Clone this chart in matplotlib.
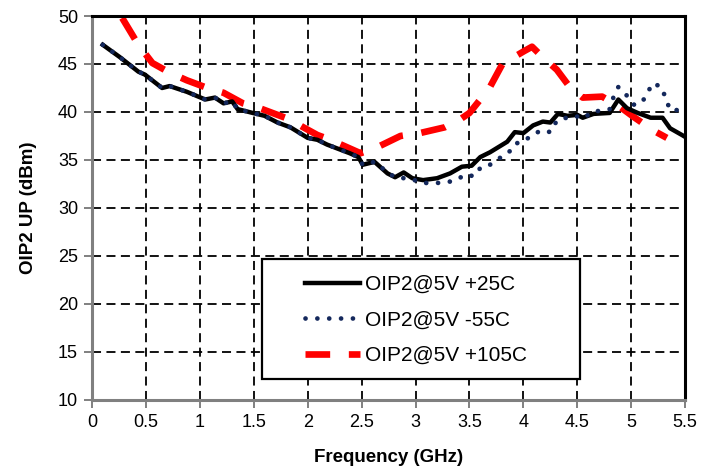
import numpy as np
import matplotlib; matplotlib.use("Agg")
import matplotlib.pyplot as plt
from matplotlib.patches import Rectangle

plt.rcParams.update({"font.family": ["Liberation Sans", "DejaVu Sans"]})

# OIP2 (upper tone) vs frequency at three temperatures
f_25 = [0.10, 0.26, 0.43, 0.49, 0.65, 0.72, 0.88, 1.05, 1.14, 1.22, 1.30, 1.35, 1.49, 1.60,
        1.72, 1.84, 2.00, 2.09, 2.18, 2.39, 2.47, 2.51, 2.62, 2.74, 2.81, 2.89, 2.97, 3.07,
        3.20, 3.32, 3.43, 3.52, 3.60, 3.69, 3.85, 3.92, 4.00, 4.09, 4.18, 4.25, 4.32, 4.41,
        4.50, 4.55, 4.65, 4.80, 4.88, 4.96, 5.06, 5.18, 5.29, 5.36, 5.47, 5.50]
oip_25 = [47.0, 45.7, 44.2, 43.9, 42.5, 42.7, 42.1, 41.3, 41.5, 40.9, 41.1, 40.3, 39.9, 39.6,
          38.9, 38.4, 37.3, 37.1, 36.6, 35.7, 35.3, 34.5, 34.8, 33.6, 33.2, 33.7, 33.1, 32.9,
          33.1, 33.6, 34.3, 34.4, 35.3, 35.8, 36.9, 37.9, 37.8, 38.6, 39.0, 38.9, 39.8, 39.6,
          39.7, 39.4, 39.8, 39.9, 41.3, 40.4, 39.9, 39.4, 39.4, 38.3, 37.6, 37.4]

f_m55 = [0.10, 0.26, 0.43, 0.49, 0.65, 0.72, 0.88, 1.05, 1.14, 1.22, 1.30, 1.35, 1.49, 1.60,
         1.72, 1.84, 2.00, 2.09, 2.18, 2.39, 2.47, 2.51, 2.62, 2.74, 2.81, 2.97, 3.05, 3.13,
         3.20, 3.30, 3.38, 3.46, 3.54, 3.61, 3.69, 3.78, 3.86, 3.92, 4.00, 4.08, 4.17, 4.25,
         4.31, 4.40, 4.48, 4.55, 4.65, 4.72, 4.80, 4.83, 4.88, 4.96, 5.03, 5.11, 5.16, 5.20,
         5.28, 5.32, 5.36, 5.44, 5.50]
oip_m55 = [47.0, 45.7, 44.2, 43.9, 42.5, 42.7, 42.1, 41.3, 41.5, 40.9, 41.1, 40.3, 39.9, 39.6,
           38.9, 38.4, 37.3, 37.1, 36.6, 35.7, 35.3, 34.5, 34.8, 33.7, 33.2, 33.0, 32.6, 32.6,
           32.6, 32.7, 32.9, 33.5, 33.3, 34.3, 34.5, 35.2, 35.7, 36.7, 36.9, 37.6, 38.1, 37.9,
           39.1, 39.4, 39.6, 39.3, 40.1, 40.1, 40.3, 41.4, 42.6, 41.7, 40.7, 41.2, 42.2, 43.0,
           42.6, 41.4, 40.2, 40.2, 40.0]

f_105 = [0.28, 0.43, 0.56, 0.72, 0.88, 1.07, 1.22, 1.40, 1.53, 1.72, 1.84, 1.96, 2.09, 2.21,
         2.33, 2.49, 2.64, 2.86, 3.04, 3.27, 3.41, 3.50, 3.60, 3.69, 3.81, 3.91, 4.00, 4.08,
         4.18, 4.31, 4.43, 4.55, 4.73, 4.90, 5.02, 5.20, 5.33]
oip_105 = [49.8, 47.0, 45.1, 44.1, 43.3, 42.5, 42.0, 40.9, 40.5, 39.7, 39.2, 38.4, 37.6, 37.1,
           36.5, 35.7, 36.3, 37.5, 37.8, 38.4, 39.2, 39.9, 41.3, 42.6, 45.1, 45.7, 46.3, 46.8,
           45.7, 44.4, 42.6, 41.5, 41.6, 40.5, 39.5, 38.1, 37.3]

labels = ["OIP2@5V +25C", "OIP2@5V -55C", "OIP2@5V +105C"]
xticks = np.arange(0, 5.51, 0.5)
yticks = np.arange(10, 51, 5)

fig = plt.figure(figsize=(7.13, 4.71), dpi=100)
ax = fig.add_axes([0.129, 0.151, 0.832, 0.815])

ax.plot(f_25, oip_25, color="black", lw=3.2, label=labels[0], zorder=3)
ln2, = ax.plot(f_m55, oip_m55, color="#14285C", lw=3.4, label=labels[1], zorder=4,
               dash_capstyle="round", dash_joinstyle="round")
ln2.set_dashes([0.01, 2.5])
ln3, = ax.plot(f_105, oip_105, color="#FF0000", lw=4.8, label=labels[2], zorder=2,
               dash_capstyle="butt")
ln3.set_dashes([3.7, 2.8])

ax.set_xlim(0, 5.5)
ax.set_ylim(10, 50)
ax.set_xticks(xticks)
ax.set_xticklabels([f"{v:g}" for v in xticks])
ax.set_yticks(yticks)
ax.grid(True, color="black", ls=(0, (5, 3)), lw=1.3)
ax.set_axisbelow(True)

ax.tick_params(labelsize=13, length=6, pad=4, color="#808080", width=1.4)
for sp in ("left", "bottom"):
    ax.spines[sp].set_color("#808080")
    ax.spines[sp].set_linewidth(2.2)
for sp in ("top", "right"):
    ax.spines[sp].set_color("black")
    ax.spines[sp].set_linewidth(2.2)

ax.set_xlabel("Frequency (GHz)", fontsize=13.5, fontweight="bold", labelpad=13)
ax.set_ylabel("OIP2 UP (dBm)", fontsize=13.5, fontweight="bold", labelpad=15)

# legend frame drawn by hand so the handles sit well inside it
ax.add_patch(Rectangle((0.287, 0.055), 0.536, 0.312, transform=ax.transAxes,
                       facecolor="white", edgecolor="black", lw=1.6, zorder=5))
leg = ax.legend(loc="center left", bbox_to_anchor=(0.359, 0.208), fontsize=15,
                handlelength=2.65, handletextpad=0.25, labelspacing=0.8,
                borderpad=0, borderaxespad=0, frameon=False)
leg.set_zorder(6)

fig.savefig("out.png", dpi=100, facecolor="white")
